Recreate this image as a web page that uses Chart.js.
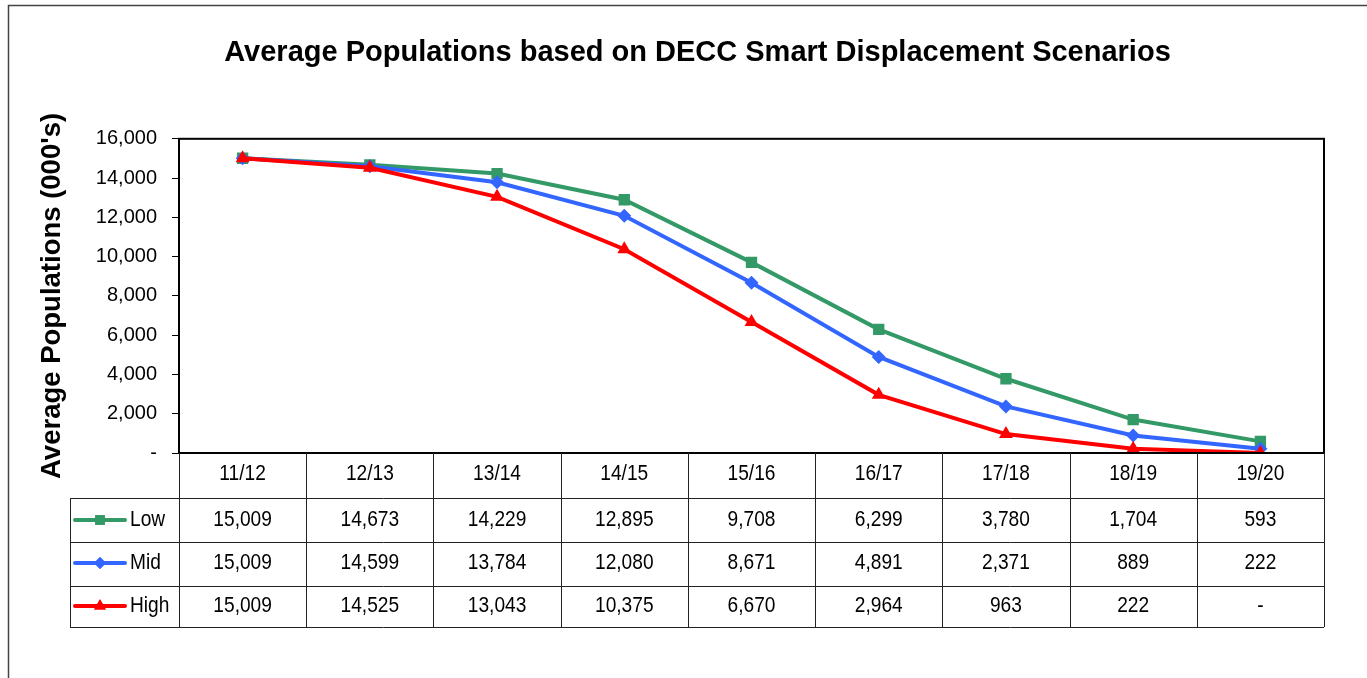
<!DOCTYPE html>
<html>
<head>
<meta charset="utf-8">
<script src="https://cdn.jsdelivr.net/npm/chart.js@4.4.0/dist/chart.umd.min.js"></script>
<style>
  html, body { margin: 0; padding: 0; background: #fff; }
  #wrap { width: 1367px; height: 678px; position: relative; }
</style>
</head>
<body>
<div id="wrap"><canvas id="c" width="1367" height="678"></canvas></div>
<script>
const titleText = "Average Populations based on DECC Smart Displacement Scenarios";
const yAxisTitle = "Average Populations (000's)";
const categories = ["11/12", "12/13", "13/14", "14/15", "15/16", "16/17", "17/18", "18/19", "19/20"];
const seriesNames = ["Low", "Mid", "High"];
const lowValues = [15009, 14673, 14229, 12895, 9708, 6299, 3780, 1704, 593];
const midValues = [15009, 14599, 13784, 12080, 8671, 4891, 2371, 889, 222];
const highValues = [15009, 14525, 13043, 10375, 6670, 2964, 963, 222, 0];
const yTicks = [0, 2000, 4000, 6000, 8000, 10000, 12000, 14000, 16000];

const colors = ["#339966", "#3366FF", "#FF0000"];
const shapes = ["rect", "rectRot", "triangle"];
const radii = [8, 7, 8];

function fmt(v) {
  return v === 0 ? "-" : v.toLocaleString("en-US");
}

const FONT = "'Liberation Sans', Arial, sans-serif";
const SQUEEZE = 0.87;

function narrowText(ctx, text, x, y, align) {
  ctx.save();
  ctx.translate(x, y);
  ctx.scale(SQUEEZE, 1);
  ctx.textAlign = align;
  ctx.fillText(text, 0, 0);
  ctx.restore();
}

const tablePlugin = {
  id: "dataTable",
  afterDraw(chart) {
    const ctx = chart.ctx;
    const area = chart.chartArea;
    const xs = chart.scales.x;
    const n = categories.length;
    const colW = (area.right - area.left) / n;
    const top = area.bottom;
    const rowEdges = [top, top + 45, top + 89, top + 133, top + 174];
    const legendLeft = 70;
    ctx.save();
    // outer frame
    ctx.strokeStyle = "#444";
    ctx.lineWidth = 1.5;
    ctx.beginPath();
    ctx.moveTo(8.5, 680);
    ctx.lineTo(8.5, 5.5);
    ctx.lineTo(1370, 5.5);
    ctx.stroke();

    // plot area border
    ctx.strokeStyle = "#000";
    ctx.lineWidth = 2;
    ctx.strokeRect(area.left, area.top, area.right - area.left, area.bottom - area.top);

    // table lines
    ctx.lineWidth = 1;
    ctx.strokeStyle = "#222";
    const bottom = rowEdges[4];
    for (let i = 0; i <= n; i++) {
      const x = Math.round(area.left + i * colW) + 0.5;
      ctx.beginPath();
      ctx.moveTo(x, top);
      ctx.lineTo(x, bottom);
      ctx.stroke();
    }
    ctx.beginPath();
    ctx.moveTo(legendLeft + 0.5, rowEdges[1]);
    ctx.lineTo(legendLeft + 0.5, bottom);
    ctx.stroke();
    for (let r = 1; r <= 4; r++) {
      const y = Math.round(rowEdges[r]) + 0.5;
      ctx.beginPath();
      ctx.moveTo(legendLeft, y);
      ctx.lineTo(area.right, y);
      ctx.stroke();
    }

    // header labels
    ctx.fillStyle = "#000";
    ctx.font = "22px " + FONT;
    ctx.textBaseline = "middle";
    categories.forEach((c, i) => {
      narrowText(ctx, c, xs.getPixelForValue(i), top + 21, "center");
    });
    const rows = [lowValues, midValues, highValues];
    const centers = [top + 67, top + 110, top + 153];
    rows.forEach((vals, r) => {
      const cy = centers[r];
      ctx.fillStyle = "#000";
      vals.forEach((v, i) => {
        narrowText(ctx, fmt(v), xs.getPixelForValue(i), cy, "center");
      });
      const ly = cy;
      ctx.strokeStyle = colors[r];
      ctx.lineWidth = 4;
      ctx.lineCap = "round";
      ctx.beginPath();
      ctx.moveTo(75, ly);
      ctx.lineTo(125, ly);
      ctx.stroke();
      ctx.fillStyle = colors[r];
      Chart.helpers.drawPoint(ctx, { pointStyle: shapes[r], radius: radii[r] * 0.85, rotation: 0, borderWidth: 0 }, 100, ly);
      ctx.fill();
      ctx.fillStyle = "#000";
      narrowText(ctx, seriesNames[r], 130, cy, "left");
    });
    ctx.restore();
  }
};

const datasetValues = [lowValues, midValues, highValues];

new Chart(document.getElementById("c"), {
  type: "line",
  data: {
    labels: categories,
    datasets: seriesNames.map((name, i) => ({
      label: name,
      data: datasetValues[i],
      borderColor: colors[i],
      backgroundColor: colors[i],
      borderWidth: 4,
      pointStyle: shapes[i],
      pointRadius: radii[i],
      pointHoverRadius: radii[i],
      pointBorderWidth: 0,
      tension: 0,
      order: 2 - i
    }))
  },
  options: {
    responsive: false,
    animation: false,
    events: [],
    layout: { padding: { left: 28, right: 0, top: 0, bottom: 225 } },
    plugins: {
      legend: { display: false },
      tooltip: { enabled: false },
      title: {
        display: true,
        text: titleText,
        color: "#000",
        font: { family: FONT, size: 29, weight: "bold" },
        padding: { top: 36, bottom: 68 }
      }
    },
    scales: {
      x: {
        display: false,
        offset: true
      },
      y: {
        min: 0,
        max: 16000,
        afterFit(scale) { scale.width = 151; },
        afterBuildTicks(scale) { scale.ticks = yTicks.map(v => ({ value: v })); },
        grid: { drawOnChartArea: false, drawTicks: true, tickLength: 7, color: "#000", lineWidth: 1 },
        border: { display: true, color: "#000", width: 2 },
        ticks: {
          color: "#000",
          font: { family: FONT, size: 20 },
          padding: 15,
          callback: v => fmt(v)
        },
        title: {
          display: true,
          text: yAxisTitle,
          color: "#000",
          font: { family: FONT, size: 27.5, weight: "bold" },
          padding: { top: 8, bottom: 0 }
        }
      },
      yRight: {
        position: "right",
        display: true,
        min: 0,
        max: 16000,
        afterFit(scale) { scale.width = 43; },
        grid: { display: false },
        border: { display: false },
        ticks: { display: false }
      }
    }
  },
  plugins: [tablePlugin]
});
</script>
</body>
</html>
